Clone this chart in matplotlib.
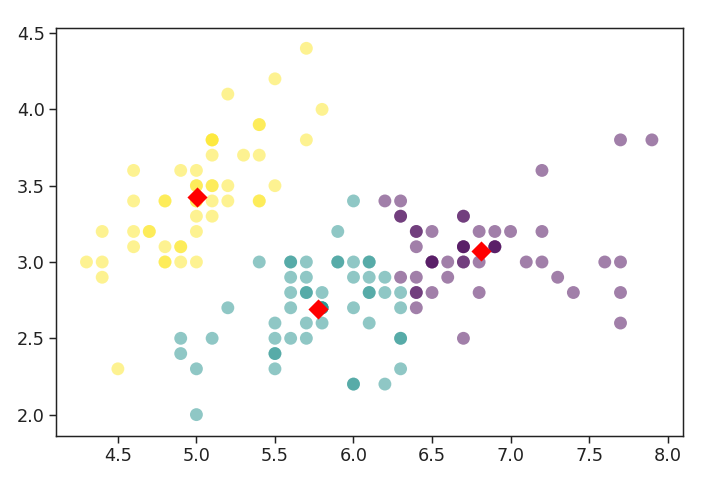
import matplotlib
matplotlib.use("Agg")
import matplotlib.pyplot as plt
import numpy as np

sepal_length = [
    5.1, 4.9, 4.7, 4.6, 5.0, 5.4, 4.6, 5.0, 4.4, 4.9,
    5.4, 4.8, 4.8, 4.3, 5.8, 5.7, 5.4, 5.1, 5.7, 5.1,
    5.4, 5.1, 4.6, 5.1, 4.8, 5.0, 5.0, 5.2, 5.2, 4.7,
    4.8, 5.4, 5.2, 5.5, 4.9, 5.0, 5.5, 4.9, 4.4, 5.1,
    5.0, 4.5, 4.4, 5.0, 5.1, 4.8, 5.1, 4.6, 5.3, 5.0,
    7.0, 6.4, 6.9, 5.5, 6.5, 5.7, 6.3, 4.9, 6.6, 5.2,
    5.0, 5.9, 6.0, 6.1, 5.6, 6.7, 5.6, 5.8, 6.2, 5.6,
    5.9, 6.1, 6.3, 6.1, 6.4, 6.6, 6.8, 6.7, 6.0, 5.7,
    5.5, 5.5, 5.8, 6.0, 5.4, 6.0, 6.7, 6.3, 5.6, 5.5,
    5.5, 6.1, 5.8, 5.0, 5.6, 5.7, 5.7, 6.2, 5.1, 5.7,
    6.3, 5.8, 7.1, 6.3, 6.5, 7.6, 4.9, 7.3, 6.7, 7.2,
    6.5, 6.4, 6.8, 5.7, 5.8, 6.4, 6.5, 7.7, 7.7, 6.0,
    6.9, 5.6, 7.7, 6.3, 6.7, 7.2, 6.2, 6.1, 6.4, 7.2,
    7.4, 7.9, 6.4, 6.3, 6.1, 7.7, 6.3, 6.4, 6.0, 6.9,
    6.7, 6.9, 5.8, 6.8, 6.7, 6.7, 6.3, 6.5, 6.2, 5.9,
]
sepal_width = [
    3.5, 3.0, 3.2, 3.1, 3.6, 3.9, 3.4, 3.4, 2.9, 3.1,
    3.7, 3.4, 3.0, 3.0, 4.0, 4.4, 3.9, 3.5, 3.8, 3.8,
    3.4, 3.7, 3.6, 3.3, 3.4, 3.0, 3.4, 3.5, 3.4, 3.2,
    3.1, 3.4, 4.1, 4.2, 3.1, 3.2, 3.5, 3.6, 3.0, 3.4,
    3.5, 2.3, 3.2, 3.5, 3.8, 3.0, 3.8, 3.2, 3.7, 3.3,
    3.2, 3.2, 3.1, 2.3, 2.8, 2.8, 3.3, 2.4, 2.9, 2.7,
    2.0, 3.0, 2.2, 2.9, 2.9, 3.1, 3.0, 2.7, 2.2, 2.5,
    3.2, 2.8, 2.5, 2.8, 2.9, 3.0, 2.8, 3.0, 2.9, 2.6,
    2.4, 2.4, 2.7, 2.7, 3.0, 3.4, 3.1, 2.3, 3.0, 2.5,
    2.6, 3.0, 2.6, 2.3, 2.7, 3.0, 2.9, 2.9, 2.5, 2.8,
    3.3, 2.7, 3.0, 2.9, 3.0, 3.0, 2.5, 2.9, 2.5, 3.6,
    3.2, 2.7, 3.0, 2.5, 2.8, 3.2, 3.0, 3.8, 2.6, 2.2,
    3.2, 2.8, 2.8, 2.7, 3.3, 3.2, 2.8, 3.0, 2.8, 3.0,
    2.8, 3.8, 2.8, 2.8, 2.6, 3.0, 3.4, 3.1, 3.0, 3.1,
    3.1, 3.1, 2.7, 3.2, 3.3, 3.0, 2.5, 3.0, 3.4, 3.0,
]
cluster = [
    2, 2, 2, 2, 2, 2, 2, 2, 2, 2,
    2, 2, 2, 2, 2, 2, 2, 2, 2, 2,
    2, 2, 2, 2, 2, 2, 2, 2, 2, 2,
    2, 2, 2, 2, 2, 2, 2, 2, 2, 2,
    2, 2, 2, 2, 2, 2, 2, 2, 2, 2,
    0, 0, 0, 1, 0, 1, 0, 1, 0, 1,
    1, 1, 1, 1, 1, 0, 1, 1, 1, 1,
    1, 1, 1, 1, 0, 0, 0, 0, 1, 1,
    1, 1, 1, 1, 1, 1, 0, 1, 1, 1,
    1, 1, 1, 1, 1, 1, 1, 1, 1, 1,
    0, 1, 0, 0, 0, 0, 1, 0, 0, 0,
    0, 0, 0, 1, 1, 0, 0, 0, 0, 1,
    0, 1, 0, 1, 0, 0, 1, 1, 0, 0,
    0, 0, 0, 1, 1, 0, 0, 0, 1, 0,
    0, 0, 1, 0, 0, 0, 1, 0, 0, 1,
]
center_x = [6.81276596, 5.77358491, 5.006]
center_y = [3.07446809, 2.69245283, 3.428]

fig = plt.figure(figsize=(7.08, 4.78), dpi=100)
ax = fig.add_axes([0.0791, 0.0879, 0.8856, 0.8535])

ax.scatter(sepal_length, sepal_width, c=cluster, s=86, cmap='viridis', alpha=0.5,
           linewidths=0)
ax.scatter(center_x, center_y, c='red', s=105, marker='D', linewidths=0)

ax.set_xlim(4.106, 8.098)
ax.set_ylim(1.86, 4.533)
ax.set_xticks([4.5, 5.0, 5.5, 6.0, 6.5, 7.0, 7.5, 8.0])
ax.set_yticks([2.0, 2.5, 3.0, 3.5, 4.0, 4.5])
ax.tick_params(labelsize=12.7, length=4.7, width=1.07, colors='#222222')
for sp in ax.spines.values():
    sp.set_linewidth(1.07)
    sp.set_color('#222222')

fig.savefig("out.png", dpi=100)
